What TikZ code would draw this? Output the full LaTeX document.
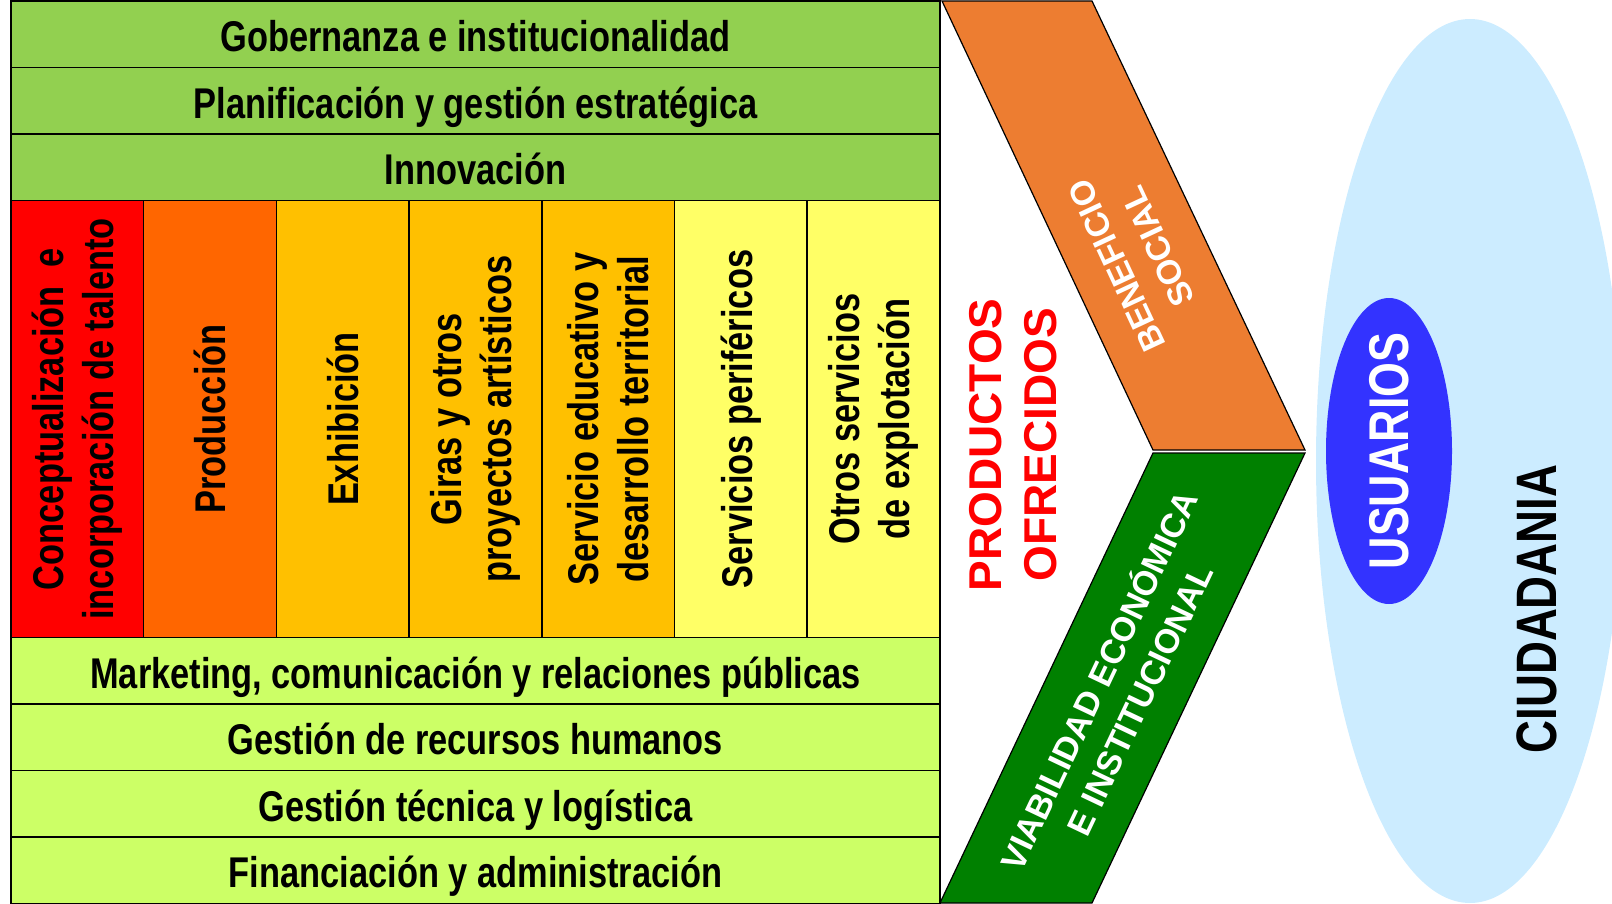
\documentclass[tikz,border=0pt]{standalone}
\usepackage{fontspec}
\setmainfont{Liberation Sans}
\newfontfamily\narrowsans{Liberation Sans}[FakeStretch=0.8]
\usepackage{tikz}
\usetikzlibrary{shapes.geometric}
\definecolor{govgreen}{HTML}{92D050}
\definecolor{supgreen}{HTML}{CCFF66}
\definecolor{stagered}{HTML}{FF0000}
\definecolor{stageorange}{HTML}{FF6600}
\definecolor{stagegold}{HTML}{FFC000}
\definecolor{stageyellow}{HTML}{FFFF66}
\definecolor{socorange}{HTML}{ED7D31}
\definecolor{viagreen}{HTML}{008000}
\definecolor{prodred}{HTML}{FF0000}
\definecolor{userblue}{HTML}{3333FF}
\definecolor{citblue}{HTML}{CCECFF}

\begin{document}
\begin{tikzpicture}[x=1pt,y=-1pt,
  band/.style={draw,line width=1.5pt,outer sep=0pt,inner sep=0pt,minimum width=929pt,minimum height=66.5pt,text height=40pt,text depth=5pt,anchor=north west,font=\narrowsans\bfseries\fontsize{43}{50}\selectfont},
  upper/.style={band,fill=govgreen},
  lower/.style={band,fill=supgreen},
  stage/.style={draw,line width=1.5pt,outer sep=0pt,inner sep=2pt,rotate=90,anchor=north east,minimum width=437pt,minimum height=132.7pt,align=center,font=\narrowsans\bfseries\fontsize{43}{50}\selectfont},
  slant/.style={text=white,align=center,font=\bfseries\fontsize{34}{45}\selectfont}]
\useasboundingbox (0,0) rectangle (1612,904);

\node[ellipse,fill=citblue,minimum width=308pt,minimum height=884pt,inner sep=0pt] (city) at (1470,461) {};
\node[rotate=90,font=\narrowsans\bfseries\fontsize{57}{60}\selectfont] (citizens) at (1537,609) {CIUDADANIA};
\node[ellipse,fill=userblue,minimum width=126pt,minimum height=306pt,inner sep=0pt] (users) at (1389,451) {};
\node[rotate=90,text=white,font=\narrowsans\bfseries\fontsize{56}{60}\selectfont] (userlbl) at (users.center) {USUARIOS};

\node[upper] (gob) at (11,1) {Gobernanza e institucionalidad};
\node[upper] (plan) at (gob.south west) {Planificación y gestión estratégica};
\node[upper] (inno) at (plan.south west) {Innovación};

\node[stage,fill=stagered] (concep) at (inno.south west) {Conceptualización~ e\\incorporación de talento};
\node[stage,fill=stageorange] (prodc) at (concep.south east) {Producción};
\node[stage,fill=stagegold] (exhib) at (prodc.south east) {Exhibición};
\node[stage,fill=stagegold] (giras) at (exhib.south east) {Giras y otros\\proyectos artísticos};
\node[stage,fill=stagegold] (educ) at (giras.south east) {Servicio educativo y\\desarrollo territorial};
\node[stage,fill=stageyellow] (perif) at (educ.south east) {Servicios periféricos};
\node[stage,fill=stageyellow] (explo) at (perif.south east) {Otros servicios\\de explotación};

\node[lower] (mark) at (concep.north west) {Marketing, comunicación y relaciones públicas};
\node[lower] (rrhh) at (mark.south west) {Gestión de recursos humanos};
\node[lower] (tec) at (rrhh.south west) {Gestión técnica y logística};
\node[lower] (fin) at (tec.south west) {Financiación y administración};

\draw[line width=1.2pt,fill=socorange] (942,1) -- (1092,1) -- (1305,450) -- (1153,450) -- cycle;
\draw[line width=1.2pt,fill=viagreen] (1153,453) -- (1305,453) -- (1092,903) -- (940,903) -- cycle;
\node[slant,rotate=115] (social) at (1137,256) {BENEFICIO\\SOCIAL};
\node[slant,rotate=64.6] (viab) at (1117,689) {VIABILIDAD ECONÓMICA\\E INSTITUCIONAL};

\node[text=prodred,rotate=90,align=center,font=\bfseries\fontsize{46}{55}\selectfont] (prod) at (1013,445) {PRODUCTOS\\OFRECIDOS};
\end{tikzpicture}
\end{document}
